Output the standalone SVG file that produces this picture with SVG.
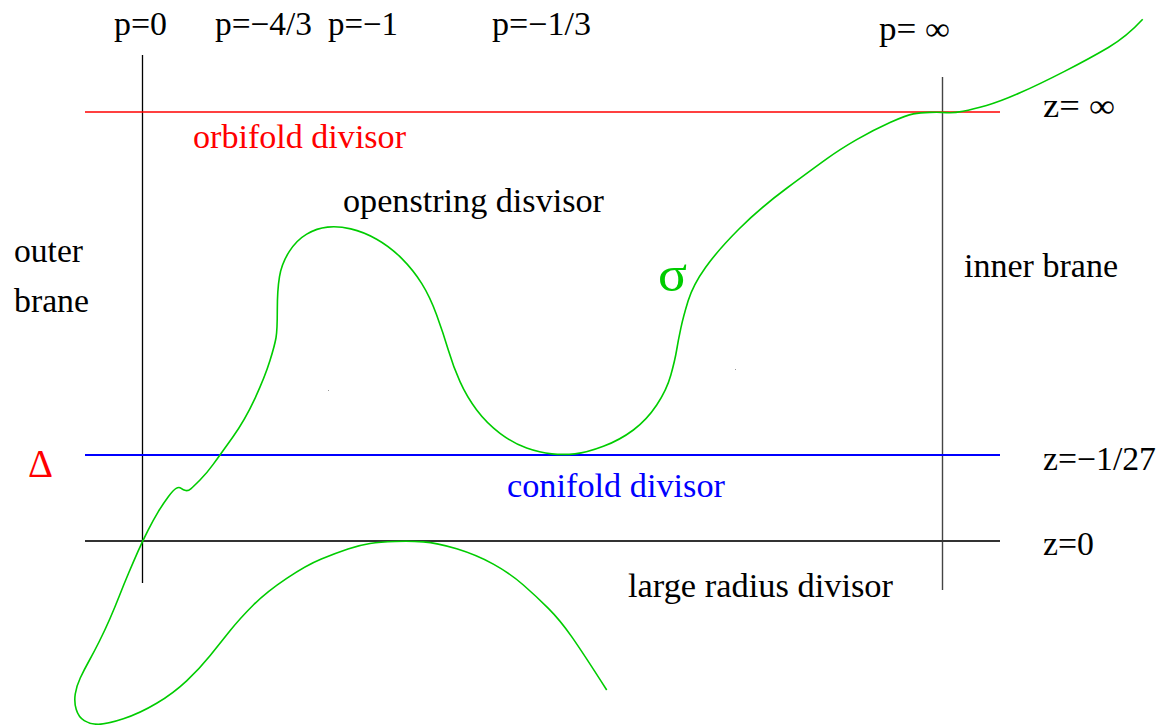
<svg xmlns="http://www.w3.org/2000/svg" width="1159" height="725" viewBox="0 0 1159 725">
<style>
  text { font-family: "Liberation Serif", "Times New Roman", serif; font-size: 33px; fill: #000; }
  .red { fill: #ff0000; }
  .blue { fill: #0000ff; }
  .green { fill: #00cc00; }
  .ln { fill: none; stroke-linecap: butt; }
</style>
<rect width="1159" height="725" fill="#ffffff"/>
<g id="lines">
  <line id="p0-line" class="ln" x1="142.5" y1="55" x2="142.5" y2="583" stroke="#000" stroke-width="1.3"/>
  <line id="pinf-line" class="ln" x1="942.5" y1="77" x2="942.5" y2="590" stroke="#444" stroke-width="1.4"/>
  <line id="orbifold-line" class="ln" x1="85" y1="112" x2="1000" y2="112" stroke="#ff0000" stroke-width="1.5"/>
  <line id="conifold-line" class="ln" x1="85" y1="455" x2="1000" y2="455" stroke="#0000ff" stroke-width="2"/>
  <line id="largeradius-line" class="ln" x1="85" y1="541" x2="1000" y2="541" stroke="#333" stroke-width="2"/>
</g>
<g id="curve">
  <path class="ln" stroke="#00cc00" stroke-width="1.6" d="M1142.7,19.3 Q1126.7,36.7 1108.35,47.5 Q1090,58.3 1065,71.15 Q1040,84 1020,92.85 Q1000,101.7 986.5,105.5 Q973,109.3 963,111.3 Q953,113.3 946.5,112.65 Q940,112 930,112.35 Q920,112.7 913.35,113.85 Q906.7,115 890,122.5 Q873.3,130 856.65,139.65 Q840,149.3 827,158.65 Q814,168 787,188 Q760,208 739,229 Q718,250 705.5,267.5 Q693,285 688.15,300.85 Q683.3,316.7 680.8,328.35 Q678.3,340 676.65,350 Q675,360 670.85,375 Q666.7,390 656.7,405 Q646.7,420 633.35,430 Q620,440 603.35,446.35 Q586.7,452.7 575,453.85 Q563.3,455 551.65,453.85 Q540,452.7 526.65,448 Q513.3,443.3 500,433.3 Q486.7,423.3 476.7,410 Q466.7,396.7 460,381.7 Q453.3,366.7 448.3,350 Q443.3,333.3 436.65,315 Q430,296.7 421.65,283.35 Q413.3,270 401.65,258.35 Q390,246.7 376.65,239.2 Q363.3,231.7 350.8,228.85 Q338.3,226 327.5,227.15 Q316.7,228.3 306.7,234.15 Q296.7,240 289.2,251.65 Q281.7,263.3 279.5,276.65 Q277.3,290 277.3,310 Q277.3,330 276.05,337.5 Q274.8,345 269.9,360.85 Q265,376.7 255,398.35 Q245,420 232.5,437.5 Q220,455 213.35,464.15 Q206.7,473.3 200,480 Q193.3,486.7 190.8,488.85 Q188.3,491 185.8,490.5 Q183.3,490 181.15,488.35 Q179,486.7 176.15,488.35 Q173.3,490 168.3,496.65 Q163.3,503.3 158.3,511.65 Q153.3,520 148,530.35 Q142.7,540.7 138,551.35 Q133.3,562 128.65,573 Q124,584 119.5,595.5 Q115,607 110,618.5 Q105,630 99.5,641 Q94,652 89,661 Q84,670 80.25,678 Q76.5,686 75.25,694 Q74,702 76.25,709.5 Q78.5,717 84.25,720.65 Q90,724.3 98.35,724.3 Q106.7,724.3 123.35,718.8 Q140,713.3 156.65,703.3 Q173.3,693.3 186.65,680.8 Q200,668.3 210,655.8 Q220,643.3 230,630.8 Q240,618.3 253.35,605 Q266.7,591.7 286.7,578.35 Q306.7,565 321.35,559 Q336,553 348,549 Q360,545 370,543.5 Q380,542 395,541.5 Q410,541 423.35,541.85 Q436.7,542.7 456.7,548.85 Q476.7,555 493.35,564.15 Q510,573.3 523.35,585 Q536.7,596.7 548.35,608.35 Q560,620 571.65,636.65 Q583.3,653.3 606.7,690"/>
</g>
<g id="dots">
  <rect x="328" y="390" width="1" height="1" fill="#999"/>
  <rect x="735" y="369" width="1" height="1" fill="#999"/>
</g>
<g id="labels">
  <text id="p0" x="114" y="35" textLength="53" lengthAdjust="spacingAndGlyphs">p=0</text>
  <text id="p43" x="215" y="35" textLength="97" lengthAdjust="spacingAndGlyphs">p=−4/3</text>
  <text id="p1" x="328" y="35" textLength="70" lengthAdjust="spacingAndGlyphs">p=−1</text>
  <text id="p13" x="492" y="35" textLength="99" lengthAdjust="spacingAndGlyphs">p=−1/3</text>
  <text id="pinf" x="879" y="40" textLength="71" lengthAdjust="spacingAndGlyphs">p= ∞</text>
  <text id="zinf" x="1043" y="117" textLength="72" lengthAdjust="spacingAndGlyphs">z= ∞</text>
  <text id="orbifold" class="red" x="193" y="148" textLength="213" lengthAdjust="spacingAndGlyphs">orbifold divisor</text>
  <text id="openstring" x="343" y="212" textLength="261" lengthAdjust="spacingAndGlyphs">openstring disvisor</text>
  <text id="outer" x="14" y="262" textLength="69" lengthAdjust="spacingAndGlyphs">outer</text>
  <text id="brane" x="14" y="312" textLength="75" lengthAdjust="spacingAndGlyphs">brane</text>
  <text id="sigma" class="green" x="658" y="291" style="font-size:50px" textLength="29" lengthAdjust="spacingAndGlyphs">σ</text>
  <text id="inner" x="964" y="277" textLength="154" lengthAdjust="spacingAndGlyphs">inner brane</text>
  <text id="delta" class="red" x="28" y="477" style="font-size:41px" textLength="25" lengthAdjust="spacingAndGlyphs">Δ</text>
  <text id="zconi" x="1043" y="470" textLength="113" lengthAdjust="spacingAndGlyphs">z=−1/27</text>
  <text id="conifold" class="blue" x="507" y="497" textLength="218" lengthAdjust="spacingAndGlyphs">conifold divisor</text>
  <text id="z0" x="1043" y="555" textLength="51" lengthAdjust="spacingAndGlyphs">z=0</text>
  <text id="largeradius" x="628" y="597" textLength="265" lengthAdjust="spacingAndGlyphs">large radius divisor</text>
</g>
</svg>
